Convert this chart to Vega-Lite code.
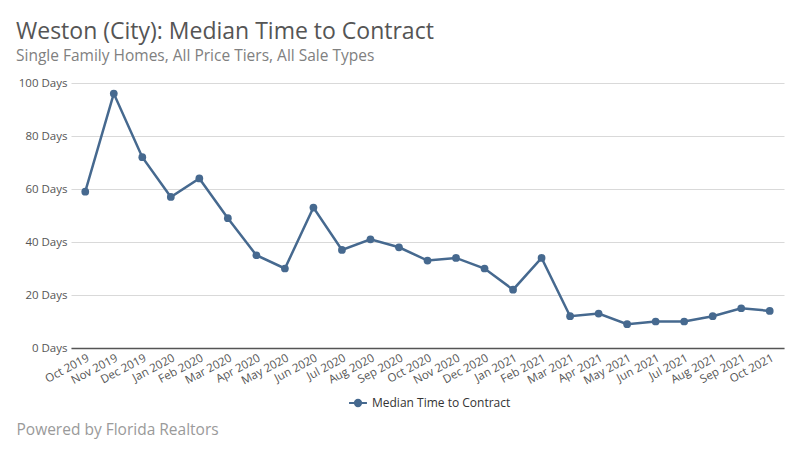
{
  "$schema": "https://vega.github.io/schema/vega-lite/v6.json",
  "autosize": {"type": "fit", "contains": "padding"},
  "width": 800,
  "height": 450,
  "padding": {"left": 16, "top": 20, "right": 16, "bottom": 12},
  "background": "white",
  "title": {
    "text": "Weston (City): Median Time to Contract",
    "subtitle": "Single Family Homes, All Price Tiers, All Sale Types",
    "anchor": "start",
    "frame": "bounds",
    "font": "Open Sans",
    "fontSize": 23,
    "fontWeight": "normal",
    "color": "#555555",
    "subtitleFont": "Open Sans",
    "subtitleFontSize": 15.5,
    "subtitleColor": "#808080",
    "subtitlePadding": 5,
    "offset": 13
  },
  "data": {
    "values": [
      {"month": "Oct 2019", "days": 59, "series": "Median Time to Contract"},
      {"month": "Nov 2019", "days": 96, "series": "Median Time to Contract"},
      {"month": "Dec 2019", "days": 72, "series": "Median Time to Contract"},
      {"month": "Jan 2020", "days": 57, "series": "Median Time to Contract"},
      {"month": "Feb 2020", "days": 64, "series": "Median Time to Contract"},
      {"month": "Mar 2020", "days": 49, "series": "Median Time to Contract"},
      {"month": "Apr 2020", "days": 35, "series": "Median Time to Contract"},
      {"month": "May 2020", "days": 30, "series": "Median Time to Contract"},
      {"month": "Jun 2020", "days": 53, "series": "Median Time to Contract"},
      {"month": "Jul 2020", "days": 37, "series": "Median Time to Contract"},
      {"month": "Aug 2020", "days": 41, "series": "Median Time to Contract"},
      {"month": "Sep 2020", "days": 38, "series": "Median Time to Contract"},
      {"month": "Oct 2020", "days": 33, "series": "Median Time to Contract"},
      {"month": "Nov 2020", "days": 34, "series": "Median Time to Contract"},
      {"month": "Dec 2020", "days": 30, "series": "Median Time to Contract"},
      {"month": "Jan 2021", "days": 22, "series": "Median Time to Contract"},
      {"month": "Feb 2021", "days": 34, "series": "Median Time to Contract"},
      {"month": "Mar 2021", "days": 12, "series": "Median Time to Contract"},
      {"month": "Apr 2021", "days": 13, "series": "Median Time to Contract"},
      {"month": "May 2021", "days": 9, "series": "Median Time to Contract"},
      {"month": "Jun 2021", "days": 10, "series": "Median Time to Contract"},
      {"month": "Jul 2021", "days": 10, "series": "Median Time to Contract"},
      {"month": "Aug 2021", "days": 12, "series": "Median Time to Contract"},
      {"month": "Sep 2021", "days": 15, "series": "Median Time to Contract"},
      {"month": "Oct 2021", "days": 14, "series": "Median Time to Contract"}
    ]
  },
  "mark": {"type": "line", "strokeWidth": 2.5, "point": {"filled": true, "size": 60, "opacity": 1}},
  "encoding": {
    "x": {
      "field": "month",
      "type": "ordinal",
      "sort": null,
      "scale": {"type": "point", "padding": 0.5},
      "axis": {
        "title": "Powered by Florida Realtors",
        "titleFont": "Open Sans",
        "titleFontSize": 15.5,
        "titleFontWeight": "normal",
        "titleColor": "#9a9a9a",
        "titleAnchor": "start",
        "titleAlign": "left",
        "titleBaseline": "alphabetic",
        "titleX": -55,
        "titleY": 86,
        "labelAngle": -28,
        "labelAlign": "right",
        "labelBaseline": "top",
        "labelFont": "Open Sans",
        "labelFontSize": 11.5,
        "labelColor": "#555555",
        "labelPadding": 4,
        "ticks": false,
        "grid": false,
        "domainColor": "#555555",
        "domainWidth": 1.5
      }
    },
    "y": {
      "field": "days",
      "type": "quantitative",
      "scale": {"domain": [0, 100]},
      "axis": {
        "title": null,
        "values": [0, 20, 40, 60, 80, 100],
        "labelExpr": "datum.value + ' Days'",
        "labelFont": "Open Sans",
        "labelFontSize": 11.5,
        "labelColor": "#555555",
        "labelPadding": 4,
        "ticks": false,
        "domain": false,
        "gridColor": "#d9d9d9",
        "gridWidth": 1
      }
    },
    "color": {
      "field": "series",
      "type": "nominal",
      "scale": {"range": ["#46698f"]},
      "legend": {
        "title": null,
        "orient": "none",
        "legendX": 277,
        "legendY": 310,
        "symbolType": "M-1,0L1,0M-0.35,0A0.35,0.35 0 1,1 0.35,0A0.35,0.35 0 1,1 -0.35,0",
        "symbolSize": 320,
        "symbolStrokeWidth": 2,
        "symbolFillColor": "#46698f",
        "symbolStrokeColor": "#46698f",
        "labelFont": "Open Sans",
        "labelFontSize": 12,
        "labelColor": "#333333"
      }
    }
  },
  "config": {"view": {"stroke": null}}
}
